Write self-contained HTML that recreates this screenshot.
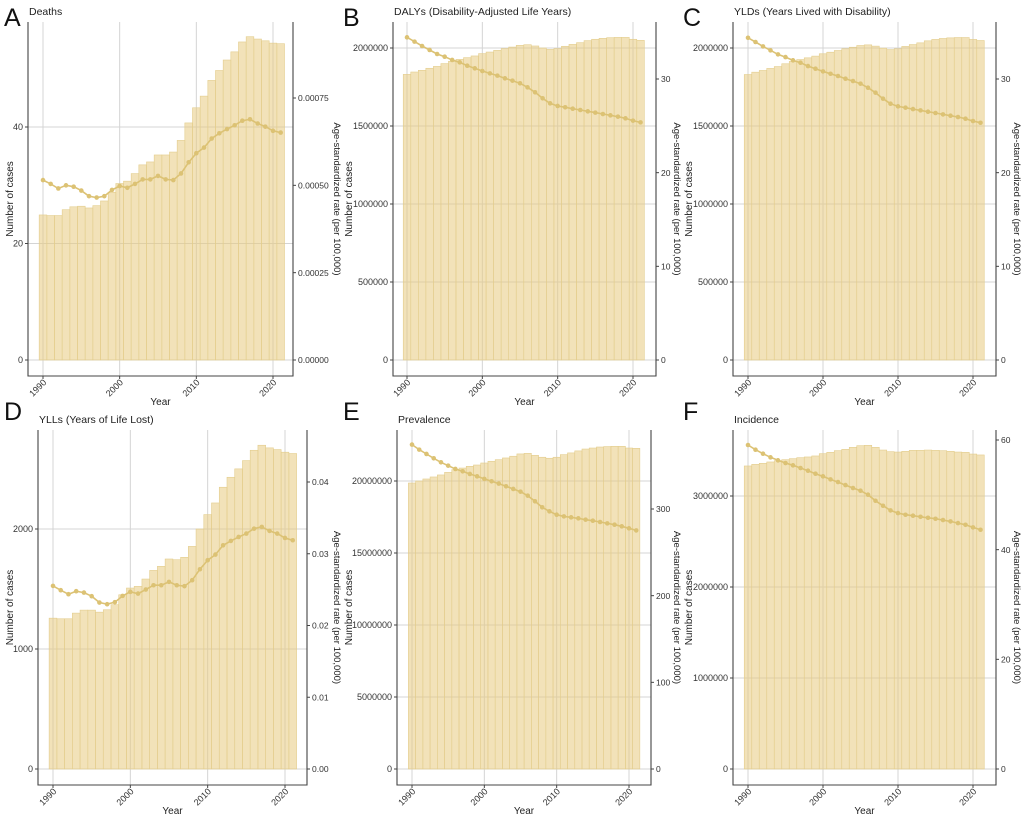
<!DOCTYPE html>
<html><head><meta charset="utf-8">
<style>
html,body{margin:0;padding:0;background:#fff;}
svg{display:block;font-family:"Liberation Sans",Arial,sans-serif;}
</style></head>
<body>
<svg id="fig" width="1022" height="819" viewBox="0 0 1022 819" xmlns="http://www.w3.org/2000/svg"></svg>
<script>
const years = [];
for (let y = 1990; y <= 2021; y++) years.push(y);

const deathsCases = [24.9,24.8,24.8,25.8,26.3,26.4,26.1,26.5,27.3,28.8,30.3,30.7,32.0,33.5,34.0,35.2,35.2,35.7,37.7,40.7,43.3,45.3,48.0,49.7,51.5,52.9,54.6,55.5,55.1,54.8,54.4,54.3];
const deathsRate = [0.000515,0.000504,0.000491,0.000500,0.000496,0.000485,0.000469,0.000465,0.000469,0.000487,0.000498,0.000493,0.000504,0.000517,0.000517,0.000527,0.000517,0.000515,0.000534,0.000566,0.000592,0.000608,0.000634,0.000649,0.000661,0.000672,0.000685,0.000689,0.000677,0.000668,0.000656,0.000651];
const dalysCases = [1831000,1846000,1857000,1870000,1882000,1900000,1915000,1927000,1938000,1949000,1964000,1974000,1985000,1996000,2006000,2017000,2021000,2013000,2000000,1991000,1996000,2011000,2023000,2034000,2047000,2056000,2062000,2066000,2068000,2068000,2056000,2049000];
const dalysRate = [34.45,33.99,33.52,33.10,32.67,32.38,32.03,31.78,31.42,31.14,30.85,30.60,30.36,30.07,29.82,29.54,29.11,28.58,27.94,27.40,27.12,26.98,26.83,26.69,26.55,26.41,26.26,26.12,25.98,25.80,25.55,25.37];
const yldsCases = [1830000,1845000,1856000,1869000,1881000,1899000,1914000,1926000,1937000,1948000,1963000,1973000,1984000,1995000,2005000,2016000,2020000,2012000,1999000,1990000,1995000,2010000,2022000,2033000,2046000,2055000,2061000,2065000,2067000,2067000,2055000,2048000];
const yldsRate = [34.40,33.95,33.48,33.06,32.63,32.34,31.99,31.74,31.38,31.10,30.81,30.56,30.32,30.03,29.78,29.50,29.07,28.54,27.90,27.36,27.08,26.94,26.79,26.65,26.51,26.37,26.22,26.08,25.94,25.76,25.51,25.33];
const yllsCases = [1257,1252,1252,1299,1324,1324,1307,1327,1369,1452,1508,1522,1583,1655,1689,1750,1744,1764,1855,2000,2120,2217,2348,2431,2501,2570,2656,2698,2676,2662,2640,2629];
const yllsRate = [0.02552,0.02492,0.02436,0.02478,0.02459,0.02408,0.02320,0.02297,0.02325,0.02413,0.02469,0.02445,0.02501,0.02561,0.02561,0.02608,0.02561,0.02548,0.02631,0.02784,0.02910,0.02988,0.03118,0.03179,0.03234,0.03281,0.03350,0.03374,0.03318,0.03281,0.03220,0.03188];
const prevCases = [19860000,20000000,20140000,20280000,20420000,20600000,20790000,20900000,21020000,21110000,21250000,21370000,21480000,21600000,21720000,21880000,21920000,21780000,21650000,21580000,21650000,21830000,21950000,22090000,22220000,22290000,22360000,22390000,22410000,22410000,22290000,22270000];
const prevRate = [374.3,368.5,363.5,358.5,353.9,350.0,346.2,343.5,340.4,337.7,334.7,332.0,329.3,326.2,323.1,320.0,315.4,308.9,302.0,297.3,293.4,291.5,290.4,289.2,287.7,286.5,285.0,283.4,281.9,280.0,277.7,275.3];
const incCases = [3330000,3348000,3359000,3374000,3388000,3399000,3410000,3421000,3429000,3440000,3465000,3480000,3498000,3513000,3535000,3553000,3557000,3535000,3505000,3487000,3483000,3491000,3502000,3502000,3505000,3502000,3498000,3491000,3483000,3480000,3461000,3451000];
const incRate = [59.09,58.23,57.50,56.84,56.29,55.80,55.38,54.89,54.40,53.85,53.37,52.82,52.33,51.78,51.24,50.75,50.02,48.92,48.01,47.16,46.67,46.37,46.19,46.00,45.82,45.64,45.40,45.15,44.85,44.54,44.06,43.63];

const xTicks = [1990,2000,2010,2020];
const ticksA_L = [0,20,40];           const ticksA_R = [0,0.00025,0.0005,0.00075];
const labelsA_R = ["0.00000","0.00025","0.00050","0.00075"];
const ticksB_L = [0,500000,1000000,1500000,2000000]; const ticksB_R = [0,10,20,30];
const ticksD_L = [0,1000,2000];       const ticksD_R = [0,0.01,0.02,0.03,0.04];
const labelsD_R = ["0.00","0.01","0.02","0.03","0.04"];
const ticksE_L = [0,5000000,10000000,15000000,20000000]; const ticksE_R = [0,100,200,300];
const ticksF_L = [0,1000000,2000000,3000000]; const ticksF_R = [0,20,40,60];

const NS = "http://www.w3.org/2000/svg";
const svg = document.getElementById("fig");
function mk(tag, attrs, parent){
  const e = document.createElementNS(NS, tag);
  for (const k in attrs) e.setAttribute(k, attrs[k]);
  (parent || svg).appendChild(e);
  return e;
}

const panels = [
 {id:"a", letter:"A", title:"Deaths", L:28, R:293, top:22, bot:376, y0:360, x0:43, x1:273,
  lt:40, lp:127, rt:0.00075, rp:98, cases:deathsCases, rate:deathsRate,
  tl:ticksA_L, tr:ticksA_R, trl:labelsA_R, lx:4, ly:26, rtx:333},
 {id:"b", letter:"B", title:"DALYs (Disability-Adjusted Life Years)", L:393, R:656, top:22, bot:376, y0:360, x0:407, x1:633,
  lt:2000000, lp:48, rt:30, rp:79, cases:dalysCases, rate:dalysRate,
  tl:ticksB_L, tr:ticksB_R, trl:null, lx:343, ly:26, rtx:673},
 {id:"c", letter:"C", title:"YLDs (Years Lived with Disability)", L:733, R:996, top:22, bot:376, y0:360, x0:748, x1:973,
  lt:2000000, lp:48, rt:30, rp:79, cases:yldsCases, rate:yldsRate,
  tl:ticksB_L, tr:ticksB_R, trl:null, lx:683, ly:26, rtx:1013},
 {id:"d", letter:"D", title:"YLLs (Years of Life Lost)", L:38, R:307, top:430, bot:785, y0:769, x0:53, x1:285,
  lt:2000, lp:529, rt:0.04, rp:482, cases:yllsCases, rate:yllsRate,
  tl:ticksD_L, tr:ticksD_R, trl:labelsD_R, lx:4, ly:420, rtx:333},
 {id:"e", letter:"E", title:"Prevalence", L:397, R:651, top:430, bot:785, y0:769, x0:412, x1:629,
  lt:20000000, lp:481, rt:300, rp:509, cases:prevCases, rate:prevRate,
  tl:ticksE_L, tr:ticksE_R, trl:null, lx:343, ly:420, rtx:673},
 {id:"f", letter:"F", title:"Incidence", L:733, R:996, top:430, bot:785, y0:769, x0:748, x1:973,
  lt:3000000, lp:496, rt:60, rp:440, cases:incCases, rate:incRate,
  tl:ticksF_L, tr:ticksF_R, trl:null, lx:683, ly:420, rtx:1013}
];

panels.forEach(p => {
  const g = mk("g", {});
  
  
  const xs = yr => p.x0 + (yr - 1990) * (p.x1 - p.x0) / 30;
  const yl = v => p.y0 - v * (p.y0 - p.lp) / p.lt;
  const yr = v => p.y0 - v * (p.y0 - p.rp) / p.rt;
  const bw = (p.x1 - p.x0) / 30;

  xTicks.forEach(t => {
    const l = mk("line", {x1:xs(t), x2:xs(t), y1:p.top, y2:p.bot, stroke:"#d4d4d4", "stroke-width":1}, g);
    
    
  });
  p.tl.forEach(t => {
    const l = mk("line", {x1:p.L, x2:p.R, y1:yl(t), y2:yl(t), stroke:"#d4d4d4", "stroke-width":1}, g);
    
    
  });

  years.forEach((y, i) => {
    const b = mk("rect", {x:xs(y) - bw/2, y:yl(p.cases[i]), width:bw, height:p.y0 - yl(p.cases[i]),
      fill:"rgba(232,203,128,0.55)", stroke:"#e3cd8d", "stroke-width":0.6}, g);
    
    
  });

  const pts = years.map((y, i) => xs(y).toFixed(1) + "," + yr(p.rate[i]).toFixed(1)).join(" ");
  const pl = mk("polyline", {points:pts, fill:"none", stroke:"#dcc274", "stroke-width":1.6}, g);
  
  
  years.forEach((y, i) => {
    const c = mk("circle", {cx:xs(y), cy:yr(p.rate[i]), r:2.3, fill:"#dcc274"}, g);
    
    
  });

  const ax = mk("path", {d:`M${p.L},${p.top}V${p.bot}H${p.R}V${p.top}`, fill:"none", stroke:"#444", "stroke-width":1.1}, g);
  
  

  p.tl.forEach(t => {
    mk("line", {x1:p.L-3, x2:p.L, y1:yl(t), y2:yl(t), stroke:"#444"}, g);
    const tx = mk("text", {x:p.L-5, y:yl(t)+3.2, "font-size":9, "text-anchor":"end", fill:"#333"}, g);
    tx.textContent = String(t);
    
    
  });
  p.tr.forEach((t, i) => {
    mk("line", {x1:p.R, x2:p.R+3, y1:yr(t), y2:yr(t), stroke:"#444"}, g);
    const tx = mk("text", {x:p.R+5, y:yr(t)+3.2, "font-size":8.5, "text-anchor":"start", fill:"#333"}, g);
    tx.textContent = p.trl ? p.trl[i] : String(t);
    
    
  });
  xTicks.forEach(t => {
    mk("line", {x1:xs(t), x2:xs(t), y1:p.bot, y2:p.bot+3, stroke:"#444"}, g);
    const tx = mk("text", {x:xs(t)+4, y:p.bot+7, "font-size":9, "text-anchor":"end", fill:"#333",
      transform:`rotate(-45 ${xs(t)+4} ${p.bot+7})`}, g);
    tx.textContent = String(t);
    
    
  });

  const xt = mk("text", {x:(p.L+p.R)/2, y:p.bot+29, "font-size":10, "text-anchor":"middle", fill:"#222"}, g);
  xt.textContent = "Year";
  
  
  const cy = (p.top + p.bot) / 2;
  const ylx = p.lx + 9;
  const ytl = mk("text", {x:ylx, y:cy, "font-size":10, "text-anchor":"middle", fill:"#222", transform:`rotate(-90 ${ylx} ${cy})`}, g);
  ytl.textContent = "Number of  cases";
  
  
  const yrx = p.rtx + 1;
  const ytr = mk("text", {x:yrx, y:cy, "font-size":9.5, "text-anchor":"middle", fill:"#222", transform:`rotate(90 ${yrx} ${cy})`}, g);
  ytr.textContent = "Age-standardized  rate (per 100,000)";
  
  

  const pt = mk("text", {x:p.L+1, y:p.top-7, "font-size":10.5, fill:"#222"}, g);
  pt.textContent = p.title;
  
  
  const lt = mk("text", {x:p.lx, y:p.ly, "font-size":25, fill:"#111", "font-weight":"normal"}, g);
  lt.textContent = p.letter;
  
  
});
</script>
</body></html>
